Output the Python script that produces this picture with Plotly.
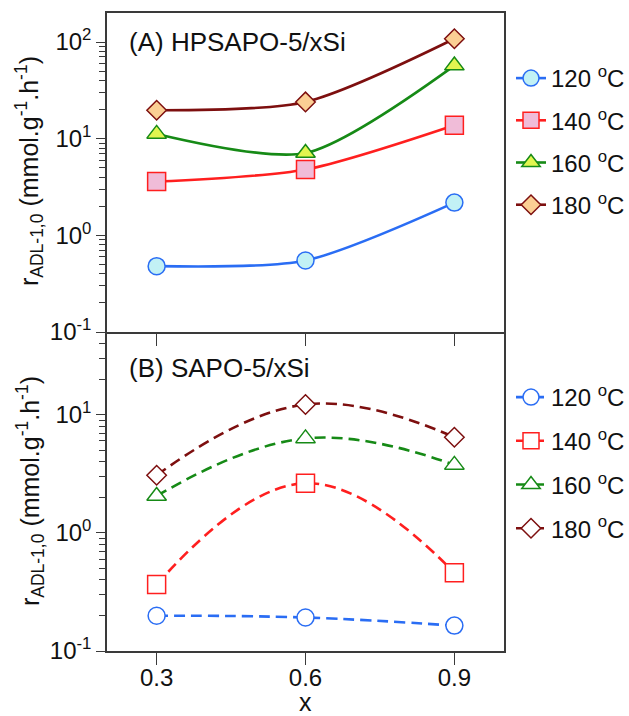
import plotly.graph_objects as go

# ---- data ----
x_vals = [0.3, 0.6, 0.9]
temps = ["120", "140", "160", "180"]

hp_120 = [0.48, 0.55, 2.18]
hp_140 = [3.6, 4.8, 13.8]
hp_160 = [11.2, 7.1, 57.0]
hp_180 = [19.7, 24.0, 108.0]

sa_120 = [0.199, 0.192, 0.164]
sa_140 = [0.365, 2.63, 0.46]
sa_160 = [2.05, 6.3, 3.76]
sa_180 = [3.07, 12.2, 6.45]

y_ticks = [0.1, 1, 10, 100]
y_ticktext = ["10<sup>-1</sup>", "10<sup>0</sup>", "10<sup>1</sup>", "10<sup>2</sup>"]
x_ticks = [0.3, 0.6, 0.9]
x_ticktext = ["0.3", "0.6", "0.9"]

# ---- styles ----
line_cols = ["#2a6df4", "#ff1f1f", "#168a16", "#7d0f0f"]
fill_cols = ["#c2f1f5", "#f0bcd8", "#e2f550", "#fbcf94"]
symbols = ["circle", "square", "triangle-up", "diamond"]
sizes = [17, 18, 17, 15]
FONT = "Liberation Sans, Arial, Helvetica, sans-serif"
AX = "#3a3a3a"
TXT = 25
TICK = 24
LEG = 24

fig = go.Figure()

hp_series = [hp_120, hp_140, hp_160, hp_180]
sa_series = [sa_120, sa_140, sa_160, sa_180]

for i, (t, ys) in enumerate(zip(temps, hp_series)):
    fig.add_trace(go.Scatter(
        x=x_vals, y=ys, xaxis="x", yaxis="y", mode="lines+markers",
        name=f"{t} <sup>o</sup>C", legend="legend", legendgroup=f"a{i}",
        line=dict(color=line_cols[i], width=2.6, shape="spline", smoothing=0.75),
        marker=dict(symbol=symbols[i], size=sizes[i], color=fill_cols[i],
                    line=dict(color=line_cols[i], width=1.5)),
    ))

for i, (t, ys) in enumerate(zip(temps, sa_series)):
    fig.add_trace(go.Scatter(
        x=x_vals, y=ys, xaxis="x2", yaxis="y2", mode="lines+markers",
        name=f"{t} <sup>o</sup>C", legend="legend2", legendgroup=f"b{i}",
        line=dict(color=line_cols[i], width=2.6, shape="spline", smoothing=1.2,
                  dash="11px,6px"),
        marker=dict(symbol=symbols[i], size=sizes[i], color="white",
                    line=dict(color=line_cols[i], width=1.5)),
    ))

minor_vals = [m * 10 ** k for k in (-1, 0, 1, 2) for m in range(2, 10)]

common_y = dict(
    type="log", showline=True, linecolor=AX, linewidth=1.5, mirror=True,
    ticks="outside", ticklen=9, tickwidth=1.3, tickcolor=AX,
    tickvals=y_ticks, ticktext=y_ticktext, showgrid=False, zeroline=False,
    tickfont=dict(size=TICK, color="#111", family=FONT),
    minor=dict(ticks="outside", ticklen=6, tickwidth=1.1, tickcolor=AX,
               tickvals=minor_vals, showgrid=False),
)
common_x = dict(
    range=[0.2, 1.0], showline=True, linecolor=AX, linewidth=1.5,
    ticks="outside", ticklen=12, tickwidth=1.3, tickcolor=AX,
    tickvals=x_ticks, ticktext=x_ticktext, showgrid=False, zeroline=False,
    tickfont=dict(size=TICK, color="#111", family=FONT),
)

fig.update_layout(
    width=629, height=716,
    margin=dict(l=107, r=125, t=13, b=65, autoexpand=False),
    paper_bgcolor="white", plot_bgcolor="white",
    font=dict(family=FONT, size=TXT, color="#111"),
    xaxis=dict(common_x, domain=[0, 1], anchor="y", showticklabels=False, mirror=True),
    yaxis=dict(common_y, domain=[0.5, 1], anchor="x", range=[-1, 2.3]),
    xaxis2=dict(common_x, domain=[0, 1], anchor="y2", mirror=False,
                ticklabelstandoff=-8),
    yaxis2=dict(common_y, domain=[0, 0.5], anchor="x2", range=[-1, 1.7]),
    legend=dict(xref="container", yref="container", x=511 / 629, xanchor="left",
                y=1 - 56 / 716, yanchor="top",
                traceorder="grouped", tracegroupgap=8,
                font=dict(size=LEG, family=FONT), bgcolor="rgba(0,0,0,0)"),
    legend2=dict(xref="container", yref="container", x=511 / 629, xanchor="left",
                 y=1 - 375 / 716, yanchor="top",
                 traceorder="grouped", tracegroupgap=9.5,
                 font=dict(size=LEG, family=FONT), bgcolor="rgba(0,0,0,0)"),
    showlegend=True,
)

ytitle = "r<sub>ADL-1,0</sub> (mmol.g<sup>-1</sup>.h<sup>-1</sup>)"
annos = [
    dict(text=ytitle, xref="paper", yref="paper", x=-0.195, y=0.7516,
         textangle=-90, showarrow=False, xanchor="center", yanchor="middle",
         font=dict(size=TXT, family=FONT, color="#111")),
    dict(text=ytitle, xref="paper", yref="paper", x=-0.195, y=0.25,
         textangle=-90, showarrow=False, xanchor="center", yanchor="middle",
         font=dict(size=TXT, family=FONT, color="#111")),
    dict(text="(A) HPSAPO-5/xSi", xref="paper", yref="paper", x=0.05, y=0.9545,
         showarrow=False, xanchor="left", yanchor="middle",
         font=dict(size=26, family=FONT, color="#111")),
    dict(text="(B) SAPO-5/xSi", xref="paper", yref="paper", x=0.05, y=0.4436,
         showarrow=False, xanchor="left", yanchor="middle",
         font=dict(size=26, family=FONT, color="#111")),
    dict(text="x", xref="paper", yref="paper", x=0.5, y=-0.08,
         showarrow=False, xanchor="center", yanchor="middle",
         font=dict(size=TXT, family=FONT, color="#111")),
]
fig.update_layout(annotations=annos)

fig.write_html("out.html")
